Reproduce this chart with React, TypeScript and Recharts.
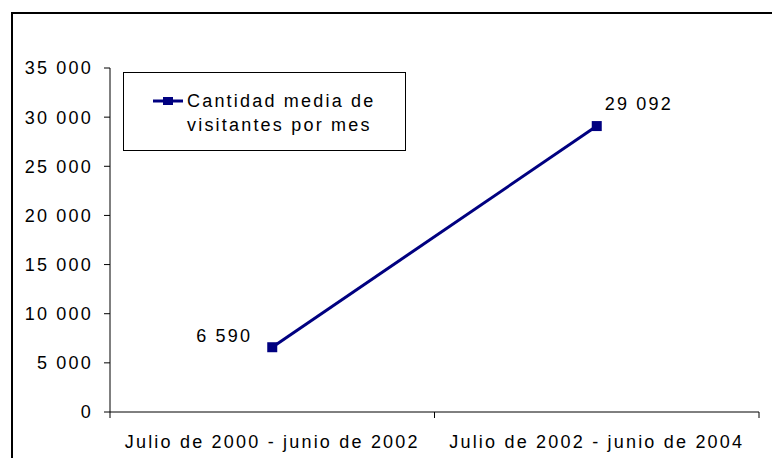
import React from 'react';
import { LineChart, Line, XAxis, YAxis, Legend, LabelList } from 'recharts';

const categories = ['Julio de 2000 - junio de 2002', 'Julio de 2002 - junio de 2004'];
const visitors = [6590, 29092];
const yTicks = [0, 5000, 10000, 15000, 20000, 25000, 30000, 35000];
const xTicks = [0, 0.5, 1, 1.5, 2];
const legendLines = ['Cantidad media de', 'visitantes por mes'];

const NAVY = '#000080';
const FONT = 'Arial, "Liberation Sans", sans-serif';
const FONT_SIZE = 18;
const SPACING = 2.2;

const data = categories.map((name, i) => ({ pos: i + 0.5, name, visitors: visitors[i] }));

const fmt = (v: number) => String(v).replace(/\B(?=(\d{3})+(?!\d))/g, ' ');

const textProps = {
  fontFamily: FONT,
  fontSize: FONT_SIZE,
  letterSpacing: SPACING,
  fill: '#000',
};

function renderYTick(props: any) {
  const { x, y, payload } = props;
  return (
    <text x={x} y={y} dy="0.355em" textAnchor="end" {...textProps}>
      {fmt(payload.value)}
    </text>
  );
}

function renderXTick(props: any) {
  const { x, y, payload } = props;
  const v = payload.value;
  if (Number.isInteger(v)) {
    return <line x1={x} x2={x} y1={y} y2={y + 6} stroke="#000" strokeWidth={1} />;
  }
  return (
    <text x={x} y={y + 30} dy="0.355em" textAnchor="middle" {...textProps}>
      {categories[Math.floor(v)]}
    </text>
  );
}

function renderDot(props: any) {
  const { cx, cy, index } = props;
  return <rect key={`dot-${index}`} x={cx - 5} y={cy - 5} width={10} height={10} fill={NAVY} />;
}

function renderValueLabel(props: any) {
  const { x, y, value, index } = props;
  // first point: label to the left, second: above right
  if (index === 0) {
    return (
      <text x={x - 20} y={y - 12} dy="0.355em" textAnchor="end" {...textProps}>
        {fmt(value)}
      </text>
    );
  }
  return (
    <text x={x + 8} y={y - 22} dy="0.355em" textAnchor="start" {...textProps}>
      {fmt(value)}
    </text>
  );
}

function renderLegend() {
  return (
    <div
      style={{
        position: 'relative',
        boxSizing: 'border-box',
        width: 283,
        height: 79,
        border: '1px solid #000',
        background: '#fff',
        fontFamily: FONT,
        fontSize: FONT_SIZE,
        letterSpacing: SPACING,
        color: '#000',
      }}
    >
      <svg width={40} height={20} style={{ position: 'absolute', left: 29, top: 18 }}>
        <line x1={0} x2={30} y1={10} y2={10} stroke={NAVY} strokeWidth={3} />
        <rect x={10} y={6} width={10} height={8} fill={NAVY} />
      </svg>
      {legendLines.map((line, i) => (
        <div
          key={line}
          style={{ position: 'absolute', left: 63, top: 17 + i * 24, lineHeight: '22px', whiteSpace: 'nowrap' }}
        >
          {line}
        </div>
      ))}
    </div>
  );
}

export default function App() {
  return (
    <div
      style={{
        position: 'fixed',
        left: 0,
        top: 0,
        width: 772,
        height: 458,
        overflow: 'hidden',
        background: '#fff',
      }}
    >
      <div
        style={{
          position: 'absolute',
          left: 11,
          top: 12,
          width: 800,
          height: 500,
          border: '2px solid #000',
        }}
      />
      <div style={{ position: 'absolute', left: 0, top: 0 }}>
        <LineChart width={772} height={458} data={data} margin={{ top: 68, right: 13, bottom: 16, left: 0 }}>
          <XAxis
            dataKey="pos"
            type="number"
            domain={[0, 2]}
            ticks={xTicks}
            interval={0}
            tick={renderXTick}
            tickLine={false}
            tickSize={0}
            tickMargin={0}
            height={30}
            axisLine={{ stroke: '#000' }}
          />
          <YAxis
            type="number"
            domain={[0, 35000]}
            ticks={yTicks}
            interval={0}
            width={110}
            tick={renderYTick}
            tickSize={6}
            tickMargin={11}
            tickLine={{ stroke: '#000' }}
            axisLine={{ stroke: '#000' }}
          />
          <Legend
            layout="horizontal"
            verticalAlign="middle"
            align="center"
            content={renderLegend}
            wrapperStyle={{ left: 123, top: 72, width: 283, height: 79 }}
          />
          <Line
            type="linear"
            dataKey="visitors"
            name="Cantidad media de visitantes por mes"
            stroke={NAVY}
            strokeWidth={3}
            dot={renderDot}
            activeDot={false}
            isAnimationActive={false}
          >
            <LabelList dataKey="visitors" content={renderValueLabel} />
          </Line>
        </LineChart>
      </div>
    </div>
  );
}
